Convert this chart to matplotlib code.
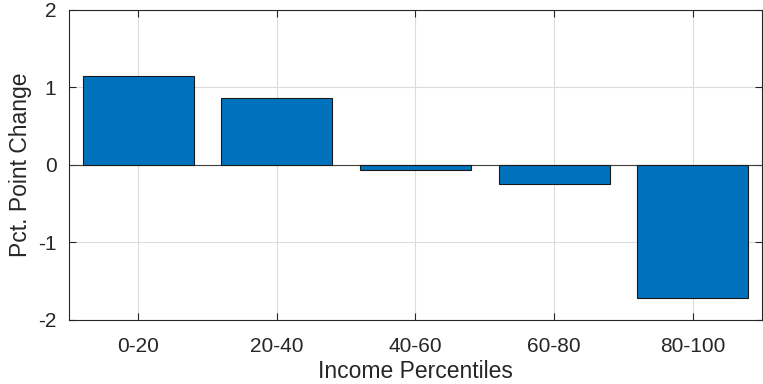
import matplotlib.pyplot as plt

# change in share by income group, percentage points
groups = ["0-20", "20-40", "40-60", "60-80", "80-100"]
changes = [1.15, 0.87, -0.06, -0.25, -1.72]

plt.rcParams["font.family"] = ["Liberation Sans", "DejaVu Sans"]

fig = plt.figure(figsize=(7.63, 3.84), dpi=100)
ax = fig.add_axes([0.0904, 0.1667, 0.9083, 0.8073])

x = range(1, len(groups) + 1)
ax.bar(x, changes, width=0.8, color="#0072BD", edgecolor="#1a1a1a", linewidth=0.8, zorder=3)
ax.axhline(0, color="#404040", linewidth=0.8, zorder=2)

ax.set_xlim(0.5, len(groups) + 0.5)
ax.set_ylim(-2, 2)
ax.set_xticks(list(x))
ax.set_xticklabels(groups)
ax.set_yticks([-2, -1, 0, 1, 2])
ax.set_yticklabels(["-2", "-1", "0", "1", "2"])

ax.grid(True, color="#dcdcdc", linewidth=0.8, zorder=0)
ax.set_axisbelow(True)
ax.tick_params(direction="in", length=5, width=0.8, colors="#262626",
               labelsize=15, top=True, right=True)
ax.tick_params(axis="x", pad=12)
ax.tick_params(axis="y", pad=9)
for s in ax.spines.values():
    s.set_color("#262626")
    s.set_linewidth(0.8)

ax.set_xlabel("Income Percentiles", fontsize=16.5, color="#262626", labelpad=3)
ax.set_ylabel("Pct. Point Change", fontsize=16.5, color="#262626", labelpad=4)

fig.savefig("out.png", dpi=100)
